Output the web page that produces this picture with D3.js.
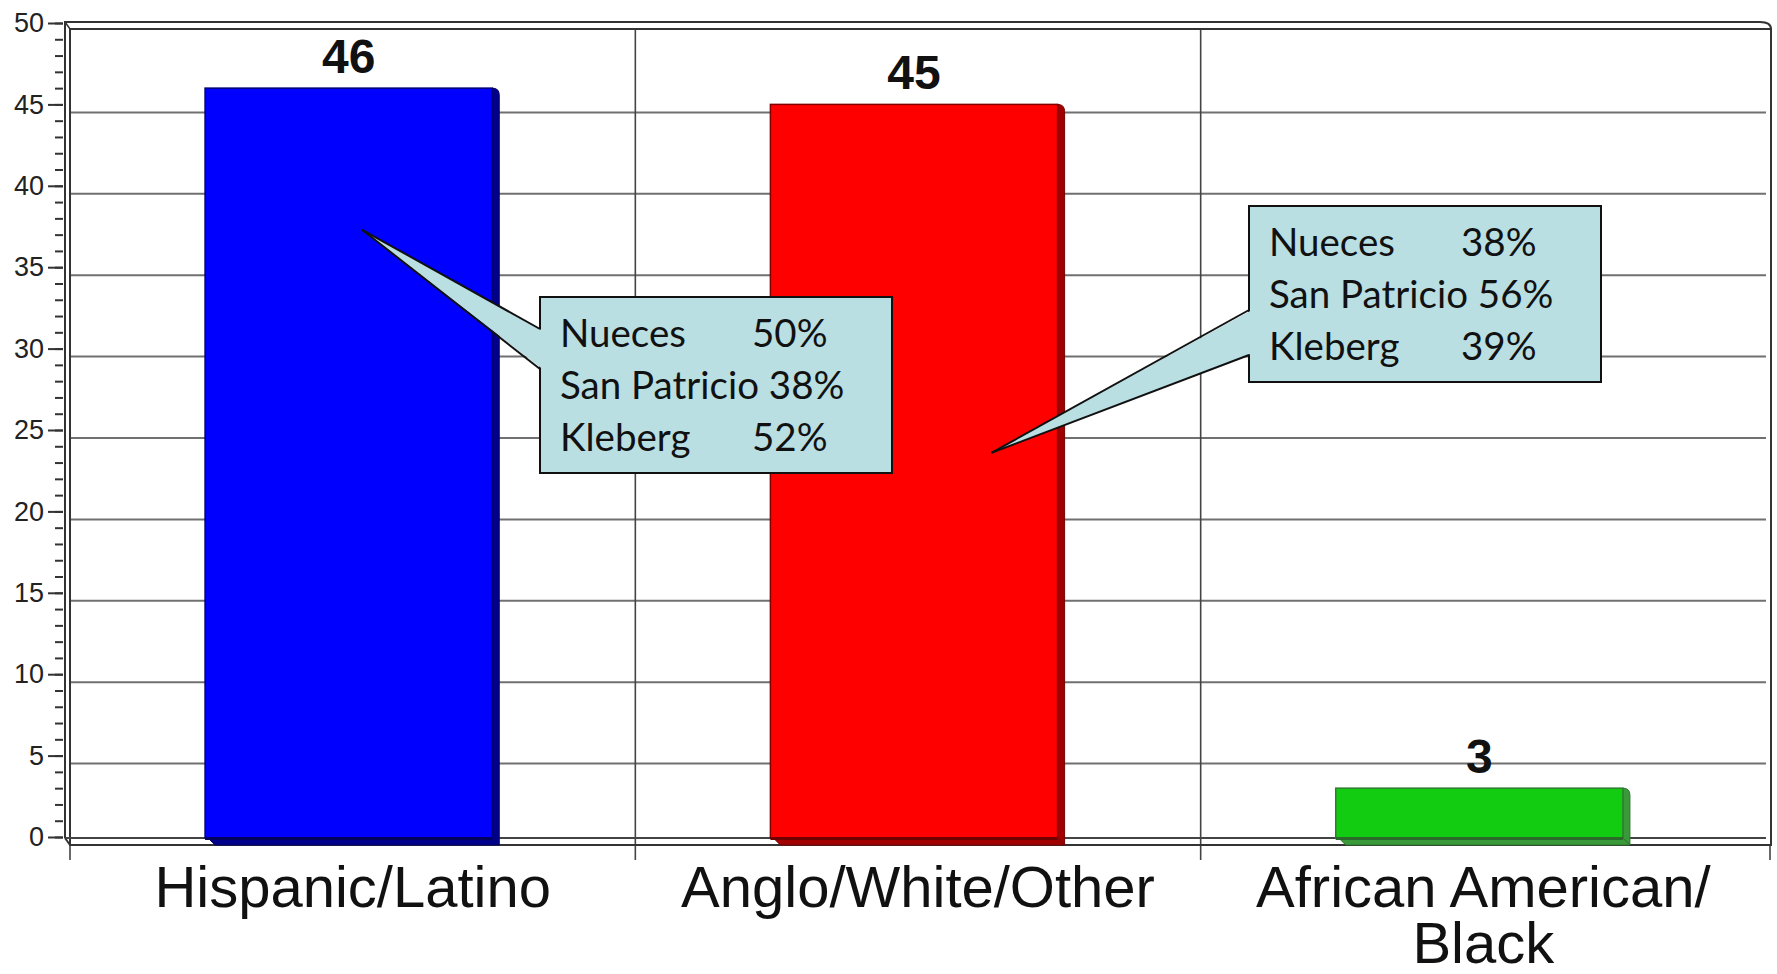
<!DOCTYPE html>
<html>
<head>
<meta charset="utf-8">
<script src="https://cdn.jsdelivr.net/npm/d3@7"></script>
<style>
  html, body { margin: 0; padding: 0; background: #fff; }
  svg { display: block; }
</style>
</head>
<body>
<svg id="chart" width="1777" height="974"></svg>
<script>
// ---------- data ----------
const categories = ["Hispanic/Latino", "Anglo/White/Other", "African American/\nBlack"];
const values = [46, 45, 3];
const barColors = ["#0000ff", "#ff0000", "#11cc11"];
const sideColors = ["#00008a", "#a00000", "#3a9a3a"];
const yTickValues = [0, 5, 10, 15, 20, 25, 30, 35, 40, 45, 50];

const counties = ["Nueces", "San Patricio", "Kleberg"];
const hispanicPct = ["50%", "38%", "52%"];
const angloPct = ["38%", "56%", "39%"];

// ---------- layout ----------
const svg = d3.select("#chart");
const frontL = 65, frontT = 22, frontR = 1766, frontB = 838;
const depth = { dx: 5, dy: 7 };
const backL = frontL + depth.dx, backT = frontT + depth.dy, backR = frontR + depth.dx, backB = frontB + depth.dy;

const y = d3.scaleLinear().domain([0, 50]).range([837, 23]);
const x = d3.scaleBand().domain(categories).range([70, 1766]).padding(0);

const gridG = svg.append("g");
// horizontal gridlines on back wall
gridG.selectAll("line.h").data(yTickValues.slice(1, -1)).join("line")
  .attr("x1", backL).attr("x2", frontR)
  .attr("y1", d => y(d) + 8).attr("y2", d => y(d) + 8)
  .attr("stroke", "#707070").attr("stroke-width", 2);

// vertical category dividers
const dividers = categories.slice(1).map(c => x(c));
gridG.selectAll("line.v").data(dividers).join("line")
  .attr("x1", d => d).attr("x2", d => d)
  .attr("y1", backT).attr("y2", 860)
  .attr("stroke", "#444").attr("stroke-width", 1.6);
// x-axis ticks at ends
gridG.selectAll("line.t").data([backL, backR - 1]).join("line")
  .attr("x1", d => d).attr("x2", d => d)
  .attr("y1", backB).attr("y2", 860)
  .attr("stroke", "#444").attr("stroke-width", 1.6);

// frames
svg.append("rect").attr("x", backL).attr("y", backT).attr("width", backR - backL).attr("height", backB - backT)
  .attr("fill", "none").attr("stroke", "#333").attr("stroke-width", 2);
svg.append("path")
  .attr("d", `M${frontL},${frontB} L${frontL},${frontT} L${frontR - 6},${frontT} Q${backR},${frontT} ${backR},${backT}`)
  .attr("fill", "none").attr("stroke", "#333").attr("stroke-width", 2);
svg.append("line").attr("x1", frontL).attr("x2", frontR).attr("y1", frontB).attr("y2", frontB)
  .attr("stroke", "#444").attr("stroke-width", 2);
svg.append("line").attr("x1", frontL).attr("x2", backL).attr("y1", frontB).attr("y2", backB)
  .attr("stroke", "#333").attr("stroke-width", 2);
svg.append("line").attr("x1", frontL).attr("x2", backL).attr("y1", frontT).attr("y2", backT)
  .attr("stroke", "#333").attr("stroke-width", 1.5);

// y axis: minor ticks
const minorAxis = d3.axisLeft(y).tickValues(d3.range(0, 51, 1)).tickSize(8).tickFormat("");
const gMinor = svg.append("g").attr("transform", `translate(63,0)`).call(minorAxis);
gMinor.select(".domain").remove();
gMinor.selectAll("line").attr("stroke", "#333").attr("stroke-width", 2);
// major ticks with labels
const majorAxis = d3.axisLeft(y).tickValues(yTickValues).tickSize(15).tickPadding(4);
const gMajor = svg.append("g").attr("transform", `translate(63,0)`).call(majorAxis);
gMajor.select(".domain").remove();
gMajor.selectAll("line").attr("stroke", "#333").attr("stroke-width", 2);
gMajor.selectAll("text").attr("font-family", "Liberation Sans, Arial, sans-serif")
  .attr("font-size", 27).attr("fill", "#222");

// ---------- bars ----------
const barW = x.bandwidth() * 0.508;
const barX = c => x(c) + (x.bandwidth() - barW) / 2 - 4;
const sd = 7;
const bars = svg.append("g").selectAll("g").data(categories).join("g");
bars.each(function (c, i) {
  const g = d3.select(this);
  const x0 = barX(c), x1 = x0 + barW, top = y(values[i]), bot = y(0) + 1;
  // bottom strip
  g.append("path")
    .attr("d", `M${x0 + 3},${bot} L${x1},${bot} L${x1 + sd},${bot + sd} L${x0 + 3 + sd},${bot + sd} Z`)
    .attr("fill", sideColors[i]).attr("stroke", d3.color(sideColors[i]).darker(0.8)).attr("stroke-width", 1);
  // right side
  g.append("path")
    .attr("d", `M${x1},${top} Q${x1 + sd},${top} ${x1 + sd},${top + sd} L${x1 + sd},${bot + sd} L${x1},${bot} Z`)
    .attr("fill", sideColors[i]).attr("stroke", d3.color(sideColors[i]).darker(0.8)).attr("stroke-width", 1);
  // front
  g.append("rect").attr("x", x0).attr("y", top).attr("width", barW).attr("height", bot - top)
    .attr("fill", barColors[i]).attr("stroke", d3.color(sideColors[i]).darker(0.6)).attr("stroke-width", 1.5);
  // bottom dark edge on front
  g.append("rect").attr("x", x0).attr("y", bot - 1).attr("width", barW).attr("height", 3)
    .attr("fill", d3.color(sideColors[i]).darker(1));
  // value label
  g.append("text").attr("x", x0 + barW / 2).attr("y", top - 15)
    .attr("text-anchor", "middle")
    .attr("font-family", "Liberation Sans, Arial, sans-serif").attr("font-weight", "bold")
    .attr("font-size", 48).attr("fill", "#111").text(values[i]);
});

// ---------- category labels ----------
const catG = svg.append("g");
categories.forEach(c => {
  const t = catG.append("text")
    .attr("x", x(c) + x.bandwidth() / 2).attr("y", 907)
    .attr("text-anchor", "middle")
    .attr("font-family", "Liberation Sans, Arial, sans-serif")
    .attr("font-size", 58).attr("fill", "#111");
  c.split("\n").forEach((line, j) => {
    t.append("tspan").attr("x", x(c) + x.bandwidth() / 2).attr("dy", j === 0 ? 0 : 56).text(line);
  });
});

// ---------- callouts ----------
function callout(box, tip, baseY1, baseY2, pcts) {
  const g = svg.append("g");
  const fill = "#b9dfe3";
  g.append("rect").attr("x", box.x).attr("y", box.y).attr("width", box.w).attr("height", box.h)
    .attr("fill", fill).attr("stroke", "#111").attr("stroke-width", 2);
  // wedge pointer (base merged into box)
  g.append("path")
    .attr("d", `M${box.x + 1.2},${baseY1 + 1} L${tip[0]},${tip[1]} L${box.x + 1.2},${baseY2 - 1} Z`)
    .attr("fill", fill).attr("stroke", "none");
  g.append("line").attr("x1", box.x).attr("y1", baseY1).attr("x2", tip[0]).attr("y2", tip[1])
    .attr("stroke", "#111").attr("stroke-width", 2);
  g.append("line").attr("x1", box.x).attr("y1", baseY2).attr("x2", tip[0]).attr("y2", tip[1])
    .attr("stroke", "#111").attr("stroke-width", 2);
  const font = "Lato, 'Open Sans', sans-serif";
  counties.forEach((name, i) => {
    const by = box.y + 50 + i * 52;
    const t = g.append("text").attr("x", box.x + 20).attr("y", by)
      .attr("font-family", font).attr("font-size", 38.5).attr("fill", "#111");
    if (name.length > 8) {
      t.text(name + " " + pcts[i]);
    } else {
      t.text(name);
      g.append("text").attr("x", box.x + 212).attr("y", by)
        .attr("font-family", font).attr("font-size", 38.5).attr("fill", "#111").text(pcts[i]);
    }
  });
}

const tip1 = [barX(categories[0]) + 157, y(37.3)];
const tip2 = [barX(categories[1]) + 221, y(23.6)];
callout({ x: 540, y: 297, w: 352, h: 176 }, tip1, 329, 369, hispanicPct);
callout({ x: 1249, y: 206, w: 352, h: 176 }, tip2, 310, 355, angloPct);
</script>
</body>
</html>
